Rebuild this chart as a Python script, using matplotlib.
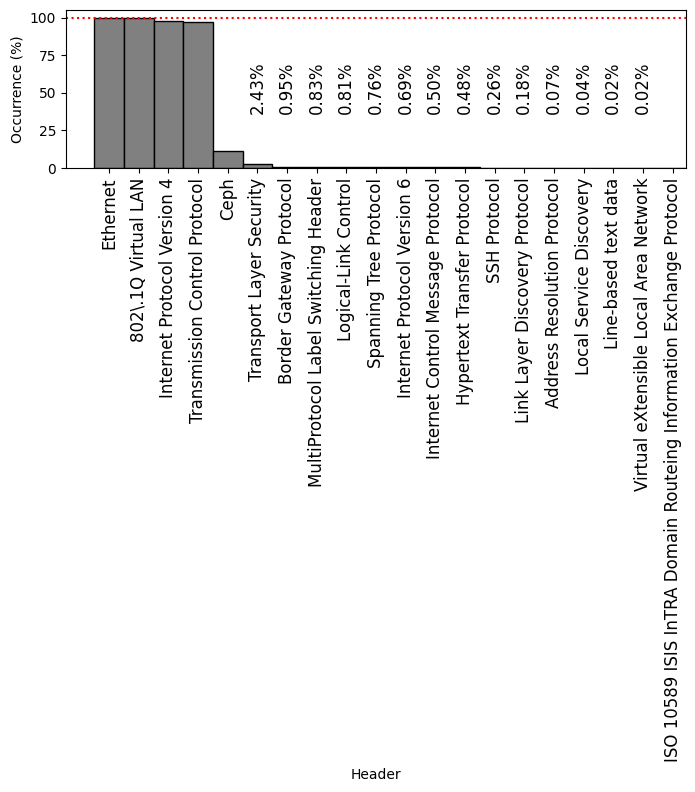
import matplotlib
matplotlib.use("Agg")
import matplotlib.pyplot as plt

headers = [
    "Ethernet", "802\\.1Q Virtual LAN", "Internet Protocol Version 4",
    "Transmission Control Protocol", "Ceph", "Transport Layer Security",
    "Border Gateway Protocol", "MultiProtocol Label Switching Header",
    "Logical-Link Control", "Spanning Tree Protocol", "Internet Protocol Version 6",
    "Internet Control Message Protocol", "Hypertext Transfer Protocol", "SSH Protocol",
    "Link Layer Discovery Protocol", "Address Resolution Protocol",
    "Local Service Discovery", "Line-based text data",
    "Virtual eXtensible Local Area Network",
    "ISO 10589 ISIS InTRA Domain Routeing Information Exchange Protocol",
]
occurrence = [100.0, 99.5, 98.0, 97.3, 11.5, 2.43, 0.95, 0.83, 0.81, 0.76, 0.69,
              0.50, 0.48, 0.26, 0.18, 0.07, 0.04, 0.02, 0.02, 0.0]
annotated = [False] * 5 + [True] * 14 + [False]

fig = plt.figure(figsize=(6.95, 7.92), dpi=100)
ax = fig.add_axes([66 / 695, (792 - 168) / 792, (686 - 66) / 695, (168 - 10) / 792])

x = list(range(len(headers)))
ax.bar(x, occurrence, width=1.0, color="gray", edgecolor="black")
ax.axhline(100, color="red", linestyle=":", linewidth=1.5)

for xi, v, a in zip(x, occurrence, annotated):
    if a:
        ax.text(xi, 36, f"{v:.2f}%", rotation=90, ha="center", va="bottom", fontsize=12)

ax.set_xticks(x)
ax.set_xticklabels(headers, rotation=90, fontsize=12)
ax.set_xlim(-1.45, 19.45)
ax.set_ylim(0, 105)
ax.set_yticks([0, 25, 50, 75, 100])
ax.set_ylabel("Occurrence (%)")
ax.set_xlabel("Header")

fig.savefig("out.png", dpi=100)
